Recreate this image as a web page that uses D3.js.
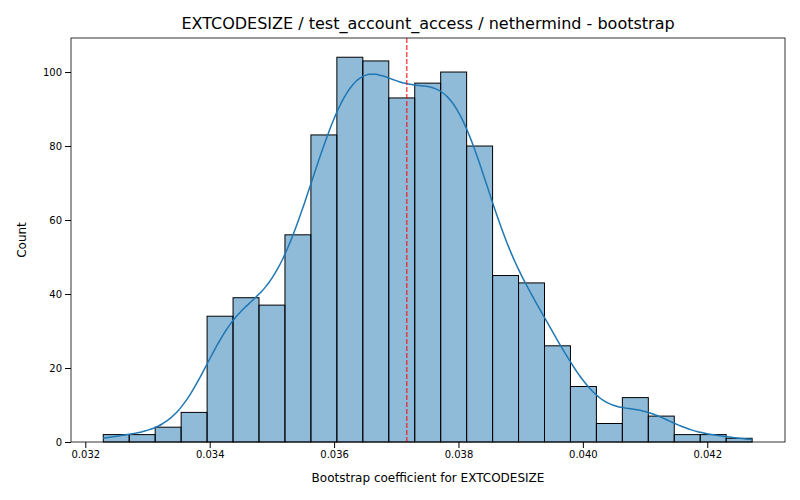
<!DOCTYPE html>
<html><head><meta charset="utf-8">
<script src="https://cdn.jsdelivr.net/npm/d3@7"></script>
<style>body{margin:0;background:#fff;font-family:"DejaVu Sans",sans-serif;}</style>
</head><body><div id="chart"></div>
<script>
// histogram bins (left edge of first, width) and counts
var binStart = 0.032289, binWidth = 0.0004173;
var counts = [2,2,4,8,34,39,37,56,83,104,103,93,97,100,80,45,43,26,15,5,12,7,2,2,1];
var meanValue = 0.03717;
var xTicks = [0.032,0.034,0.036,0.038,0.040,0.042];
var yTicks = [0,20,40,60,80,100];

var W = 800, H = 500, m = {l:71, r:15, t:38, b:58};
var svg = d3.select("#chart").append("svg").attr("width", W).attr("height", H);

var binEnd = binStart + binWidth * counts.length;
var x = d3.scaleLinear().domain([0.03177, 0.04325]).range([m.l, W - m.r]);
var y = d3.scaleLinear().domain([0, 109.2]).range([H - m.b, m.t]);

// bars
svg.selectAll("rect.bar").data(counts).join("rect")
  .attr("x", (d,i) => x(binStart + i*binWidth))
  .attr("width", (d,i) => x(binStart + (i+1)*binWidth) - x(binStart + i*binWidth))
  .attr("y", d => y(d)).attr("height", d => y(0) - y(d))
  .attr("fill", "#1f77b4").attr("fill-opacity", 0.5)
  .attr("stroke", "#000").attr("stroke-width", 1);

// kde from bin centres, weighted by counts
var n = d3.sum(counts);
var mu = d3.sum(counts, (c,i) => c*(binStart+(i+0.5)*binWidth)) / n;
var sd = Math.sqrt(d3.sum(counts, (c,i) => c*Math.pow(binStart+(i+0.5)*binWidth-mu,2)) / n);
var bw = sd * Math.pow(n, -0.2);
var kde = d3.range(0, 201).map(k => {
  var xv = binStart + (binEnd - binStart) * k / 200;
  var dens = d3.sum(counts, (c,i) => {
    var z = (xv - (binStart+(i+0.5)*binWidth)) / bw;
    return c * Math.exp(-0.5*z*z);
  }) / (n * bw * Math.sqrt(2*Math.PI));
  return [xv, dens * n * binWidth];
});
svg.append("path").datum(kde)
  .attr("d", d3.line().x(d => x(d[0])).y(d => y(d[1])).curve(d3.curveBasis))
  .attr("fill", "none").attr("stroke", "#1f77b4").attr("stroke-width", 1.5);

// mean line
svg.append("line").attr("x1", x(meanValue)).attr("x2", x(meanValue))
  .attr("y1", m.t).attr("y2", H - m.b)
  .attr("stroke", "red").attr("stroke-dasharray", "5,2").attr("stroke-width", 1);

// axes
var xa = svg.append("g").attr("transform", "translate(0," + (H - m.b) + ")")
  .call(d3.axisBottom(x).tickValues(xTicks).tickFormat(d3.format(".3f")).tickSizeOuter(0));
var ya = svg.append("g").attr("transform", "translate(" + m.l + ",0)")
  .call(d3.axisLeft(y).tickValues(yTicks).tickSizeOuter(0));
[xa, ya].forEach(g => { g.selectAll("text").attr("font-size", 10).attr("fill", "#000").attr("font-family", "DejaVu Sans"); g.selectAll("line").attr("stroke", "#000"); g.select(".domain").remove(); });
svg.append("rect").attr("x", m.l).attr("y", m.t).attr("width", W - m.r - m.l).attr("height", H - m.b - m.t)
  .attr("fill", "none").attr("stroke", "#000").attr("stroke-width", 0.8);

svg.append("text").attr("x", (m.l + W - m.r)/2).attr("y", 29).attr("text-anchor", "middle")
  .attr("font-size", 16).text("EXTCODESIZE / test_account_access / nethermind - bootstrap");
svg.append("text").attr("x", (m.l + W - m.r)/2).attr("y", 482).attr("text-anchor", "middle")
  .attr("font-size", 12).text("Bootstrap coefficient for EXTCODESIZE");
svg.append("text").attr("transform", "translate(26," + ((m.t + H - m.b)/2) + ") rotate(-90)")
  .attr("text-anchor", "middle").attr("font-size", 12).text("Count");
</script></body></html>
